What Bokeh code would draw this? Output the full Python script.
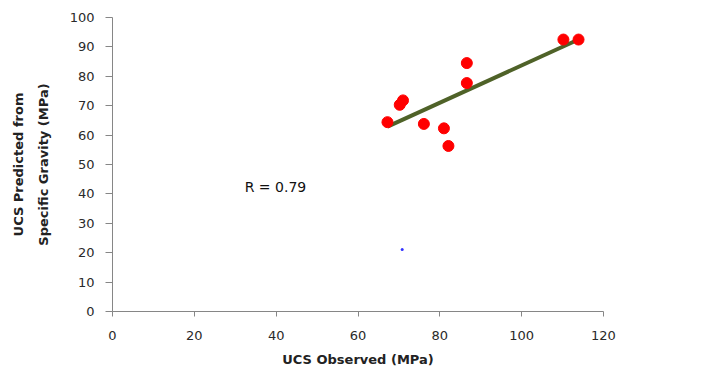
from bokeh.plotting import figure
from bokeh.models import Range1d, Label, FixedTicker
from bokeh.embed import file_html
from bokeh.resources import INLINE

# Data
ucs_observed = [67.2, 70.2, 71.0, 76.1, 81.0, 82.1, 86.6, 86.6, 110.2, 113.9]
ucs_predicted = [64.4, 70.3, 71.8, 63.8, 62.3, 56.3, 77.7, 84.5, 92.5, 92.5]
trend_x = [67.2, 113.9]
trend_y = [62.9, 92.5]
stray_x = [70.8]
stray_y = [21.1]
x_ticks = [0, 20, 40, 60, 80, 100, 120]
y_ticks = [0, 10, 20, 30, 40, 50, 60, 70, 80, 90, 100]
r_label = "R = 0.79"
r_pos = (32.3, 42.5)

FONT = "DejaVu Sans"

p = figure(frame_width=491, frame_height=294,
           x_range=Range1d(0, 120), y_range=Range1d(0, 100),
           output_backend="svg", toolbar_location=None,
           min_border_left=112, min_border_top=17,
           min_border_right=30, min_border_bottom=59,
           background_fill_color="white", border_fill_color="white")
p.outline_line_color = None
p.xgrid.visible = False
p.ygrid.visible = False

p.line(trend_x, trend_y, line_color="#4F6228", line_width=4)
p.scatter(ucs_observed, ucs_predicted, size=11, fill_color="#FF0000", line_color="#FF0000")
p.scatter(stray_x, stray_y, size=3, fill_color="#3333FF", line_color=None)

p.add_layout(Label(x=r_pos[0], y=r_pos[1], text=r_label, text_baseline="middle",
                   text_font=FONT, text_font_size="14px", text_color="#111111"))

for ax in (p.xaxis[0], p.yaxis[0]):
    ax.axis_line_color = "#868686"
    ax.major_tick_line_color = "#868686"
    ax.major_tick_in = 0
    ax.minor_tick_line_color = None
    ax.major_label_text_font = FONT
    ax.major_label_text_font_size = "13px"
    ax.major_label_text_color = "#2a2a2a"
    ax.axis_label_text_font = FONT
    ax.axis_label_text_font_size = "13px"
    ax.axis_label_text_font_style = "bold"
    ax.axis_label_text_color = "#222222"

p.xaxis.ticker = FixedTicker(ticks=x_ticks)
p.yaxis.ticker = FixedTicker(ticks=y_ticks)
p.xaxis.major_tick_out = 5
p.yaxis.major_tick_out = 7
p.xaxis.major_label_standoff = 14
p.xaxis.axis_label = "UCS Observed (MPa)"
p.xaxis.axis_label_standoff = 9
p.yaxis.major_label_standoff = 11
p.yaxis.axis_label = "UCS Predicted from\nSpecific Gravity (MPa)"
p.yaxis.axis_label_text_line_height = 1.65
p.yaxis.axis_label_standoff = 16

open("out.html", "w").write(file_html(p, INLINE))
